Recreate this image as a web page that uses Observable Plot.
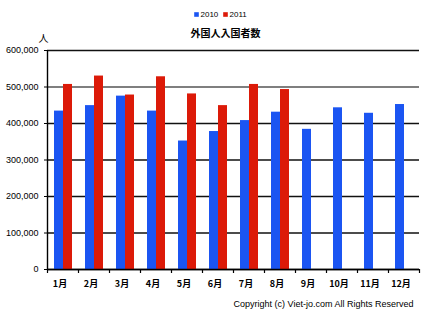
<!DOCTYPE html>
<html>
<head>
<meta charset="utf-8">
<script src="https://cdn.jsdelivr.net/npm/d3@7"></script>
<script src="https://cdn.jsdelivr.net/npm/@observablehq/plot@0.6"></script>
<style>
  html, body { margin: 0; padding: 0; background: #fff; }
</style>
</head>
<body>
<div id="chart"></div>
<script>
const months = ["1月","2月","3月","4月","5月","6月","7月","8月","9月","10月","11月","12月"];
const visitors2010 = [434000, 449000, 475000, 434000, 352000, 378000, 408000, 431000, 384000, 443000, 428000, 452000];
const visitors2011 = [507000, 530000, 478000, 528000, 481000, 449000, 507000, 493000];
const yTicks = [0, 100000, 200000, 300000, 400000, 500000, 600000];
const seriesNames = ["2010", "2011"];
const title = "外国人入国者数";
const unitLabel = "人";
const copyright = "Copyright (c) Viet-jo.com All Rights Reserved";

const blue = "#1b55f2";
const red = "#dc1a08";

const data2010 = months.map((m, i) => ({month: m, value: visitors2010[i]}));
const data2011 = visitors2011.map((v, i) => ({month: months[i], value: v}));

const font = "'Liberation Sans', Arial, sans-serif";
const cjk = "'Noto Sans CJK JP', sans-serif";

const chart = Plot.plot({
  width: 430,
  height: 316,
  marginLeft: 47,
  marginRight: 11,
  marginTop: 50,
  marginBottom: 47,
  style: {fontFamily: font, fontSize: "9px", color: "#000", background: "#fff"},
  x: {domain: months, padding: 0, axis: null},
  y: {domain: [0, 600000], axis: null},
  marks: [
    Plot.ruleY(yTicks.filter(d => d !== 500000), {stroke: "#111", strokeWidth: 1.4}),
    Plot.ruleY([500000], {stroke: "#555", strokeWidth: 1.4}),
    Plot.barY(data2010, {x: "month", y: "value", fill: blue, insetLeft: 7, insetRight: 15}),
    Plot.barY(data2011, {x: "month", y: "value", fill: red, insetLeft: 16, insetRight: 6}),
    Plot.ruleX([months[0]], {dx: -15.5, stroke: "#000", strokeWidth: 1.4}),
    Plot.ruleY([0], {stroke: "#000", strokeWidth: 1.4}),
    Plot.axisY({ticks: yTicks, label: null, tickSize: 3, tickPadding: 6, tickFormat: d3.format(","), fontSize: 9, fill: "#000", stroke: "#000"}),
    Plot.axisX({label: null, tickSize: 4, tickFormat: () => "", dx: -15.5, stroke: "#000", strokeWidth: 1.2}),
    Plot.axisX({label: null, ticks: [months[months.length - 1]], tickSize: 4, tickFormat: () => "", dx: 15.5, stroke: "#000", strokeWidth: 1.2}),
    Plot.axisX({label: null, tickSize: 0, tickPadding: 11, fontWeight: "bold", fontSize: 9, fontFamily: cjk, fill: "#000", dx: -3}),
    Plot.text([unitLabel], {frameAnchor: "top-left", lineAnchor: "middle", textAnchor: "middle", dy: -12, dx: -4, fontFamily: cjk, fontSize: 10, fill: "#000"}),
    Plot.text([title], {frameAnchor: "top", lineAnchor: "middle", dy: -17, dx: -8, fontFamily: cjk, fontWeight: "bold", fontSize: 10, fill: "#000"}),
    Plot.dot([seriesNames[0]], {frameAnchor: "top", dx: -37, dy: -36, symbol: "square", r: 2.6, fill: blue, stroke: null}),
    Plot.text([seriesNames[0]], {frameAnchor: "top", lineAnchor: "middle", dx: -33, dy: -36, textAnchor: "start", fontSize: 8, fill: "#000"}),
    Plot.dot([seriesNames[1]], {frameAnchor: "top", dx: -8, dy: -36, symbol: "square", r: 2.6, fill: red, stroke: null}),
    Plot.text([seriesNames[1]], {frameAnchor: "top", lineAnchor: "middle", dx: -4, dy: -36, textAnchor: "start", fontSize: 8, fill: "#000"}),
    Plot.text([copyright], {frameAnchor: "bottom-right", lineAnchor: "middle", dx: -6, dy: 35, textAnchor: "end", fontSize: 9, fill: "#000"})
  ]
});
document.getElementById("chart").append(chart);
</script>
</body>
</html>
